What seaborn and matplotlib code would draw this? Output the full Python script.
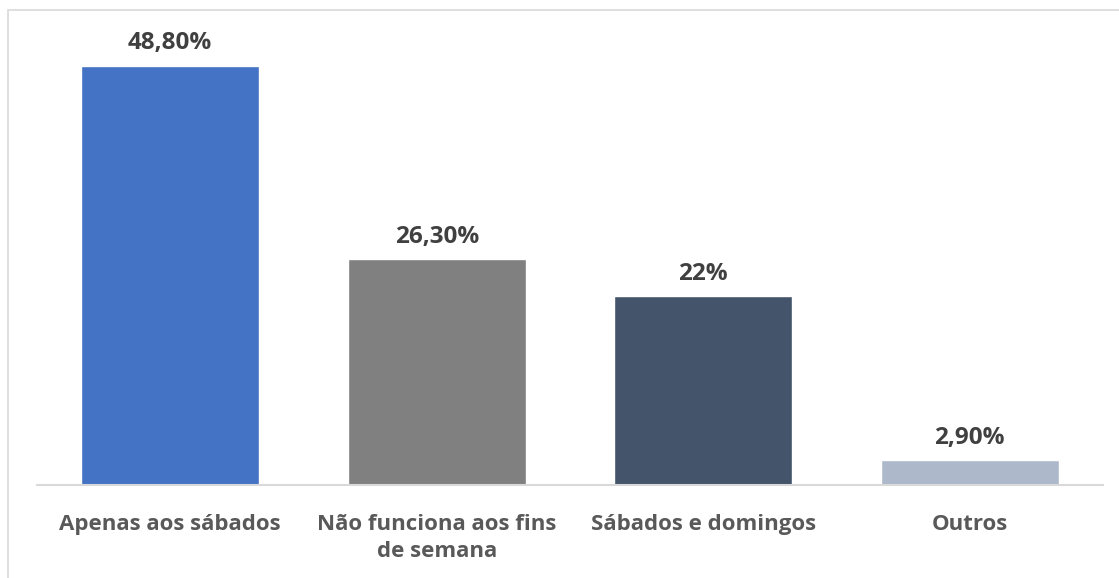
import matplotlib
matplotlib.use("Agg")
import matplotlib.pyplot as plt
import seaborn as sns
import pandas as pd
from matplotlib.patches import Rectangle

categories = ["Apenas aos sábados", "Não funciona aos fins\nde semana", "Sábados e domingos", "Outros"]
values = [48.8, 26.3, 22.0, 2.9]
value_labels = ["48,80%", "26,30%", "22%", "2,90%"]
colors = ["#4472C4", "#808080", "#44546A", "#ADB9CA"]

sns.set_theme(style="white")
plt.rcParams['font.family'] = ['Open Sans', 'DejaVu Sans']

fig = plt.figure(figsize=(11.19, 5.78), dpi=100)
ax = fig.add_axes([37/1119, 93/578, 1066/1119, 463.9/578])

df = pd.DataFrame({"cat": categories, "val": values})
sns.barplot(data=df, x="cat", y="val", hue="cat", palette=colors, width=0.668,
            legend=False, ax=ax, saturation=1)

ax.set_ylim(0, 54)
ax.set_xlim(-0.5, 3.5)
for i, (v, lab) in enumerate(zip(values, value_labels)):
    ax.annotate(lab, (i, v), xytext=(0, 7.5), textcoords="offset points",
                ha="center", va="bottom", fontsize=17.5, fontweight="bold", color="#404040")

ax.set_xlabel("")
ax.set_ylabel("")
ax.set_yticks([])
ax.tick_params(axis="x", length=0, pad=21)
for t in ax.get_xticklabels():
    t.set_fontsize(16)
    t.set_fontweight("bold")
    t.set_color("#595959")
    t.set_linespacing(1.35)
for s in ["top", "right", "left"]:
    ax.spines[s].set_visible(False)
ax.spines["bottom"].set_color("#D9D9D9")
ax.spines["bottom"].set_linewidth(1.5)

fig.patches.append(Rectangle((8/1119, -0.1), 1.2, 0.1 + 1 - 10/578, transform=fig.transFigure,
                             fill=False, edgecolor="#D9D9D9", linewidth=1.2))

fig.savefig("out.png", dpi=100, facecolor="white")
